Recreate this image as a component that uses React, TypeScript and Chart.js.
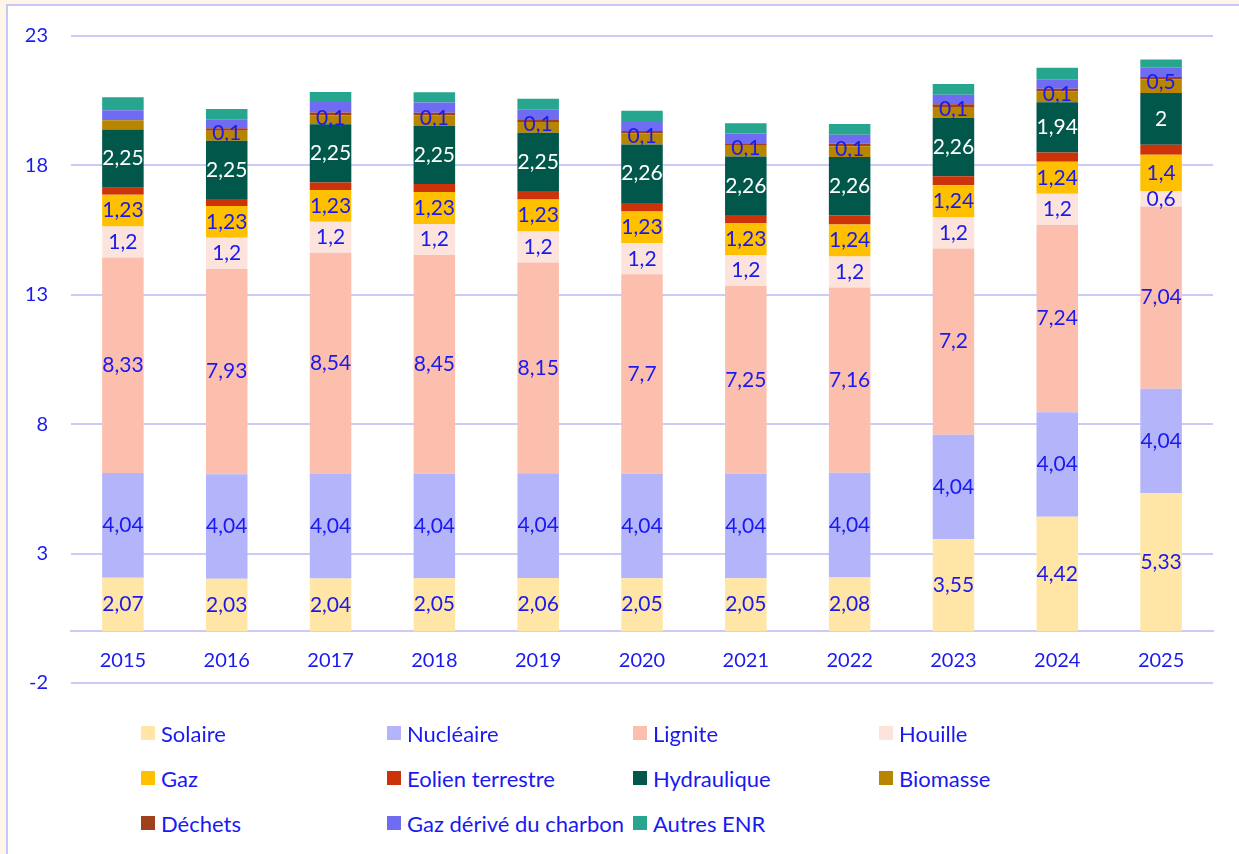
import React, { useEffect, useRef } from 'react';
import { Chart, registerables } from 'chart.js';

Chart.register(...registerables);

const years = ['2015', '2016', '2017', '2018', '2019', '2020', '2021', '2022', '2023', '2024', '2025'];
const yTicks = [-2, 3, 8, 13, 18, 23];

const solaire = [2.07, 2.03, 2.04, 2.05, 2.06, 2.05, 2.05, 2.08, 3.55, 4.42, 5.33];
const nucleaire = [4.04, 4.04, 4.04, 4.04, 4.04, 4.04, 4.04, 4.04, 4.04, 4.04, 4.04];
const lignite = [8.33, 7.93, 8.54, 8.45, 8.15, 7.7, 7.25, 7.16, 7.2, 7.24, 7.04];
const houille = [1.2, 1.2, 1.2, 1.2, 1.2, 1.2, 1.2, 1.2, 1.2, 1.2, 0.6];
const gaz = [1.23, 1.23, 1.23, 1.23, 1.23, 1.23, 1.23, 1.24, 1.24, 1.24, 1.4];
const eolien = [0.27, 0.27, 0.29, 0.31, 0.33, 0.33, 0.31, 0.34, 0.35, 0.36, 0.39];
const hydraulique = [2.25, 2.25, 2.25, 2.25, 2.25, 2.26, 2.26, 2.26, 2.26, 1.94, 2];
const biomasse = [0.35, 0.39, 0.35, 0.4, 0.42, 0.42, 0.42, 0.42, 0.42, 0.42, 0.52];
const dechets = [0, 0.1, 0.1, 0.1, 0.1, 0.1, 0.1, 0.1, 0.1, 0.1, 0.1];
const dechetsLabels = ['', '0,1', '0,1', '0,1', '0,1', '0,1', '0,1', '0,1', '0,1', '0,1', '0,5'];
const gazDerive = [0.39, 0.34, 0.41, 0.4, 0.39, 0.39, 0.37, 0.34, 0.37, 0.35, 0.37];
const autresENR = [0.5, 0.4, 0.39, 0.4, 0.41, 0.39, 0.4, 0.42, 0.42, 0.46, 0.3];

const BLUE = '#1a1af0';
const GRID = '#cbcbf7';
const FONT = 'Lato';

const fmt = (arr: number[]) => arr.map((v) => (v ? String(v).replace('.', ',') : ''));

const series = [
  { label: 'Solaire', data: solaire, color: '#FFE6A6', texts: fmt(solaire), textColor: BLUE },
  { label: 'Nucléaire', data: nucleaire, color: '#B4B4FA', texts: fmt(nucleaire), textColor: BLUE },
  { label: 'Lignite', data: lignite, color: '#FCBFAE', texts: fmt(lignite), textColor: BLUE },
  { label: 'Houille', data: houille, color: '#FCE4DC', texts: fmt(houille), textColor: BLUE },
  { label: 'Gaz', data: gaz, color: '#FFC000', texts: fmt(gaz), textColor: BLUE },
  { label: 'Eolien terrestre', data: eolien, color: '#CC330A', texts: null, textColor: BLUE },
  { label: 'Hydraulique', data: hydraulique, color: '#00574A', texts: fmt(hydraulique), textColor: '#ffffff' },
  { label: 'Biomasse', data: biomasse, color: '#B88500', texts: null, textColor: BLUE },
  { label: 'Déchets', data: dechets, color: '#A0401C', texts: dechetsLabels, textColor: BLUE, offset: 4 },
  { label: 'Gaz dérivé du charbon', data: gazDerive, color: '#706CF2', texts: null, textColor: BLUE },
  { label: 'Autres ENR', data: autresENR, color: '#26A68F', texts: null, textColor: BLUE },
];

const labelPlugin = {
  id: 'barLabels',
  afterDatasetsDraw(chart: any) {
    const ctx = chart.ctx;
    chart.data.datasets.forEach((ds: any, i: number) => {
      const texts = ds.labelTexts;
      if (!texts) return;
      const meta = chart.getDatasetMeta(i);
      meta.data.forEach((bar: any, j: number) => {
        const t = texts[j];
        if (!t) return;
        const p = bar.getProps(['x', 'y', 'base'], true);
        ctx.save();
        ctx.font = `21px ${FONT}`;
        ctx.fillStyle = ds.labelColor;
        ctx.textAlign = 'center';
        ctx.textBaseline = 'middle';
        ctx.fillText(t, p.x, (p.y + p.base) / 2 + (ds.labelOffset || 0));
        ctx.restore();
      });
    });
  },
};

export default function App() {
  const ref = useRef<HTMLCanvasElement | null>(null);

  useEffect(() => {
    if (!ref.current) return;
    const chart = new Chart(ref.current, {
      type: 'bar',
      data: {
        labels: years,
        datasets: series.map((s) => ({
          label: s.label,
          data: s.data,
          backgroundColor: s.color,
          borderWidth: 0,
          categoryPercentage: 0.8,
          barPercentage: 0.5,
          labelTexts: s.texts,
          labelColor: s.textColor,
          labelOffset: (s as any).offset || 0,
        })) as any,
      },
      options: {
        responsive: false,
        animation: false,
        layout: { padding: { top: 36, bottom: 37, left: 0, right: 26 } },
        plugins: {
          legend: { display: false },
          tooltip: { enabled: false },
        },
        scales: {
          x: {
            stacked: true,
            position: { y: 0 } as any,
            grid: { display: false, drawTicks: false },
            border: { display: true, color: GRID, width: 2 },
            ticks: { color: BLUE, font: { family: FONT, size: 20 }, padding: 17 },
          },
          y: {
            stacked: true,
            min: -2,
            max: 23,
            afterBuildTicks: (scale: any) => {
              scale.ticks = yTicks.map((v) => ({ value: v }));
            },
            afterFit: (scale: any) => {
              scale.width = 71;
            },
            grid: { color: GRID, lineWidth: 2, drawTicks: false },
            border: { display: false },
            ticks: { color: BLUE, font: { family: FONT, size: 20 }, padding: 23 },
          },
        },
      },
      plugins: [labelPlugin],
    });
    return () => chart.destroy();
  }, []);

  return (
    <div style={{ position: 'fixed', inset: 0, background: '#FDF6E6', overflow: 'hidden' }}>
      <div
        style={{
          position: 'absolute',
          left: 6,
          top: 4,
          width: 1300,
          height: 900,
          border: '2px solid #C8C8F8',
          background: '#ffffff',
        }}
      />
      <canvas ref={ref} width={1239} height={720} style={{ position: 'absolute', left: 0, top: 0 }} />
      {series.map((s, k) => {
        const col = k % 4;
        const row = Math.floor(k / 4);
        return (
          <div
            key={s.label}
            style={{
              position: 'absolute',
              left: 141 + col * 246,
              top: 733 + row * 45 - 14,
              height: 28,
              display: 'flex',
              alignItems: 'center',
              fontFamily: FONT,
              fontSize: 22,
              color: BLUE,
              whiteSpace: 'nowrap',
            }}
          >
            <span style={{ display: 'inline-block', width: 14, height: 14, background: s.color, marginRight: 6 }} />
            <span>{s.label}</span>
          </div>
        );
      })}
    </div>
  );
}
